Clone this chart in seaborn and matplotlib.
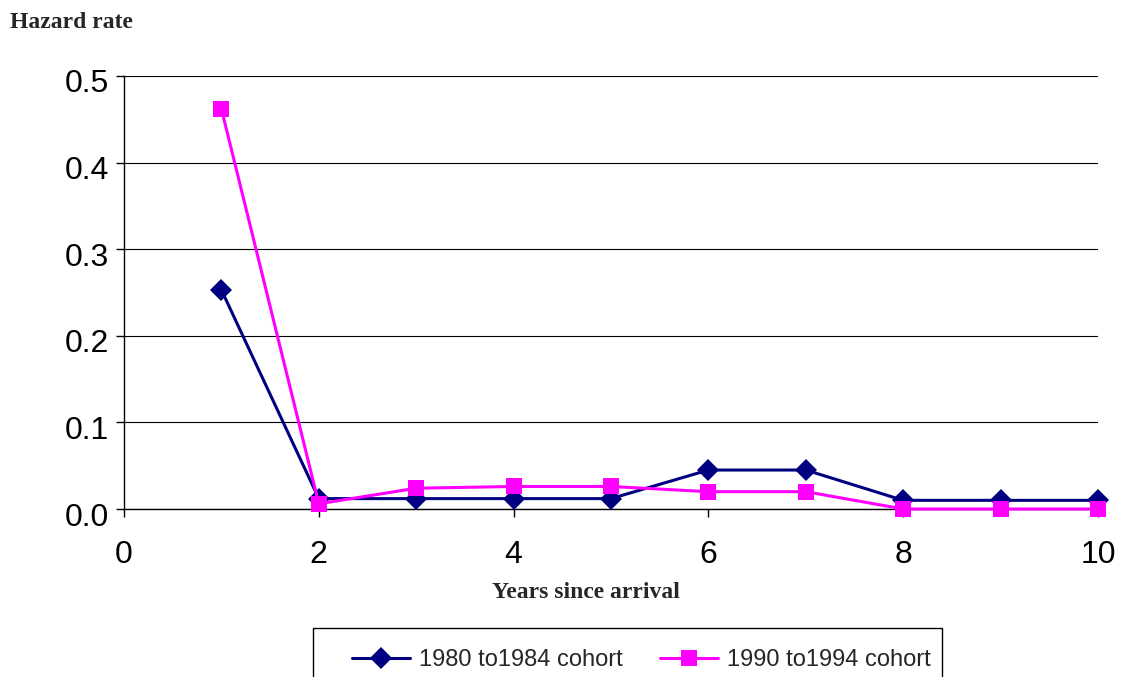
import pandas as pd
import matplotlib.pyplot as plt
import matplotlib.transforms as mtransforms
import seaborn as sns
from matplotlib.patches import Rectangle

# -------------------------
# DATA
# -------------------------
years = [1, 2, 3, 4, 5, 6, 7, 8, 9, 10]
cohort_80s = [0.253, 0.012, 0.012, 0.012, 0.012, 0.045, 0.045, 0.010, 0.010, 0.010]
cohort_90s = [0.462, 0.006, 0.024, 0.026, 0.026, 0.020, 0.020, 0.000, 0.000, 0.000]
labels = ["1980 to1984 cohort", "1990 to1994 cohort"]
colors = ["#000080", "#FF00FF"]

df = pd.DataFrame({
    "year": years * 2,
    "rate": cohort_80s + cohort_90s,
    "cohort": [labels[0]] * len(years) + [labels[1]] * len(years),
})

# -------------------------
# PLOT
# -------------------------
sns.set_style("white")
plt.rcParams["font.family"] = ["Liberation Sans", "DejaVu Sans"]

fig = plt.figure(figsize=(11.25, 6.77), dpi=100)
ax = fig.add_axes([124 / 1125, 1 - 509 / 677, (1098 - 124) / 1125, (509 - 76) / 677])

sns.lineplot(
    data=df, x="year", y="rate", hue="cohort", style="cohort",
    palette=colors, markers=["D", "s"], dashes=False,
    linewidth=2.2, markersize=11, ax=ax,
)
lines = ax.get_lines()[:2]
for line, c in zip(lines, colors):
    line.set_markeredgecolor(c)
    line.set_markeredgewidth(0)
    line.set_clip_on(False)
    line.set_zorder(5)
lines[0].set_markersize(11.5)
lines[1].set_markersize(12)

ax.set_xlim(0, 10)
ax.set_ylim(0, 0.5)
ax.set_xticks([0, 2, 4, 6, 8, 10])
ax.set_yticks([0.0, 0.1, 0.2, 0.3, 0.4, 0.5])
ax.set_yticklabels(["0.0", "0.1", "0.2", "0.3", "0.4", "0.5"])
ax.tick_params(axis="both", labelsize=23, direction="out", length=6, width=1,
               color="black", labelcolor="black", left=True, bottom=True)
ax.tick_params(axis="x", pad=16)
ax.tick_params(axis="y", pad=5)
# y labels sit a little below their ticks, as in the original
shift = mtransforms.ScaledTranslation(0, -5 / 100, fig.dpi_scale_trans)
for lab in ax.get_yticklabels():
    lab.set_transform(lab.get_transform() + shift)
ax.yaxis.grid(True, color="black", linewidth=0.8)
ax.set_axisbelow(True)
for s in ["top", "right"]:
    ax.spines[s].set_visible(False)
for s in ["left", "bottom"]:
    ax.spines[s].set_color("black")
    ax.spines[s].set_linewidth(1)
ax.set_xlabel("")
ax.set_ylabel("")

# titles in bold serif
fig.text(10 / 1125, 1 - 22 / 677, "Hazard rate", family="Liberation Serif",
         fontweight="bold", fontsize=17, va="center", ha="left")
fig.text(586 / 1125, 1 - 592 / 677, "Years since arrival", family="Liberation Serif",
         fontweight="bold", fontsize=17, va="center", ha="center")

# legend with box running off the bottom edge
ax.get_legend().remove()
leg = fig.legend(lines, labels, loc="center left",
                 bbox_to_anchor=(352 / 1125, 1 - 660 / 677), ncol=2,
                 frameon=False, fontsize=17, handlelength=2.46,
                 handletextpad=0.38, columnspacing=1.57, borderaxespad=0,
                 borderpad=0)
fig.add_artist(Rectangle((313 / 1125, -0.05), (942 - 313) / 1125, 0.05 + 49 / 677,
                         transform=fig.transFigure, fill=False,
                         edgecolor="black", linewidth=1))

fig.savefig("out.png", dpi=100)
